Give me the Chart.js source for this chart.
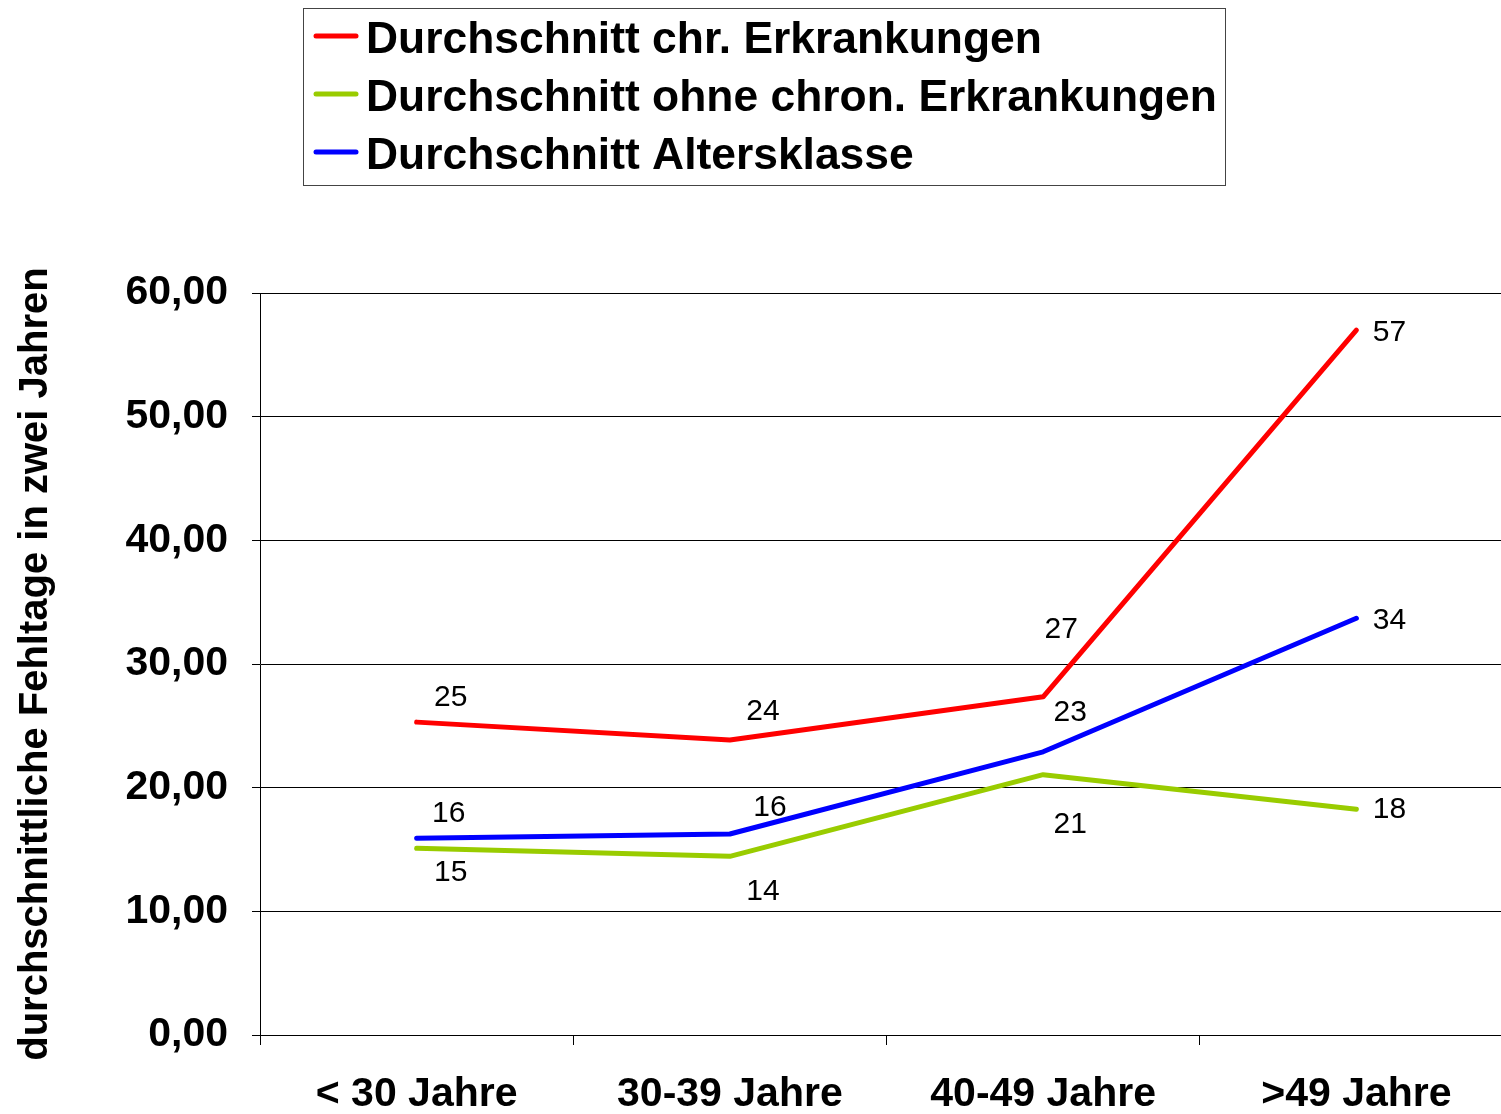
<!DOCTYPE html>
<html>
<head>
<meta charset="utf-8">
<script src="https://cdn.jsdelivr.net/npm/chart.js@4"></script>
<style>
  html, body { margin: 0; padding: 0; background: #fff; overflow: hidden; }
  #wrap { width: 1501px; height: 1114px; overflow: hidden; }
</style>
</head>
<body>
<div id="wrap"><canvas id="chart" width="1513" height="1114"></canvas></div>
<script>
const categories = ["< 30 Jahre", "30-39 Jahre", "40-49 Jahre", ">49 Jahre"];
const seriesNames = [
  "Durchschnitt chr. Erkrankungen",
  "Durchschnitt ohne chron. Erkrankungen",
  "Durchschnitt Altersklasse"
];
const chronisch = [25.3, 23.85, 27.35, 57.0];
const ohneChronisch = [15.1, 14.45, 21.05, 18.25];
const altersklasse = [15.9, 16.25, 22.9, 33.7];
const yTicks = [0, 10, 20, 30, 40, 50, 60];

const FONT = "'Liberation Sans', Arial, sans-serif";

// where each value label sits relative to its point (px)
const labelOffsets = [
  [[34, -24], [33, -28], [18, -67], [33, 3]],
  [[34, 24], [33, 35], [27, 50], [33, 0]],
  [[32, -25], [40, -26], [27, -39], [33, 2]]
];

const valueLabels = {
  id: "valueLabels",
  afterDatasetsDraw(chart) {
    const { ctx } = chart;
    ctx.save();
    ctx.font = "30px " + FONT;
    ctx.fillStyle = "#000";
    ctx.textAlign = "center";
    ctx.textBaseline = "middle";
    chart.data.datasets.forEach((ds, i) => {
      const meta = chart.getDatasetMeta(i);
      meta.data.forEach((pt, j) => {
        const off = labelOffsets[i][j];
        ctx.fillText(String(Math.round(ds.data[j])), pt.x + off[0], pt.y + off[1]);
      });
    });
    ctx.restore();
  }
};

// boxed legend like the original
const boxLegend = {
  id: "boxLegend",
  afterDraw(chart) {
    const { ctx } = chart;
    ctx.save();
    ctx.strokeStyle = "#444";
    ctx.lineWidth = 1;
    ctx.strokeRect(303.5, 8.5, 922, 177);
    ctx.font = "bold 44.4px " + FONT;
    ctx.textBaseline = "middle";
    ctx.fillStyle = "#000";
    chart.data.datasets.forEach((ds, i) => {
      const y = 41 + i * 58;
      ctx.beginPath();
      ctx.moveTo(316, y - 5);
      ctx.lineTo(356, y - 5);
      ctx.lineWidth = 5;
      ctx.lineCap = "round";
      ctx.strokeStyle = ds.borderColor;
      ctx.stroke();
      ctx.fillText(ds.label, 366, y);
    });
    ctx.restore();
  }
};

function lineSet(label, data, color) {
  return {
    label, data,
    borderColor: color,
    backgroundColor: color,
    borderWidth: 5,
    pointRadius: 0,
    tension: 0,
    borderCapStyle: "round",
    borderJoinStyle: "round"
  };
}

new Chart(document.getElementById("chart"), {
  type: "line",
  data: {
    labels: categories,
    datasets: [
      lineSet(seriesNames[0], chronisch, "#ff0000"),
      lineSet(seriesNames[1], ohneChronisch, "#99cc00"),
      lineSet(seriesNames[2], altersklasse, "#0000ff")
    ]
  },
  options: {
    responsive: false,
    animation: false,
    layout: { padding: { top: 293, right: 0, left: 0, bottom: 0 } },
    plugins: {
      legend: { display: false },
      tooltip: { enabled: false }
    },
    scales: {
      x: {
        offset: true,
        grid: { offset: true, drawOnChartArea: false, color: "#000", tickLength: 10 },
        border: { color: "#000", width: 1 },
        ticks: {
          color: "#000",
          font: { family: FONT, size: 41, weight: "bold" },
          padding: 25,
          maxRotation: 0
        },
        afterFit(scale) { scale.height = 79; }
      },
      y: {
        min: 0, max: 60,
        afterBuildTicks(scale) { scale.ticks = yTicks.map(v => ({ value: v })); },
        grid: { color: "#000", lineWidth: 1, tickLength: 8 },
        border: { color: "#000", width: 1 },
        ticks: {
          color: "#000",
          font: { family: FONT, size: 41, weight: "bold" },
          padding: 24,
          callback: v => v.toFixed(2).replace(".", ",")
        },
        title: {
          display: true,
          text: "durchschnittliche Fehltage in zwei Jahren",
          color: "#000",
          font: { family: FONT, size: 40, weight: "bold" },
          padding: { top: 12, bottom: 0 }
        },
        afterFit(scale) { scale.width = 260; }
      }
    }
  },
  plugins: [valueLabels, boxLegend]
});
</script>
</body>
</html>
